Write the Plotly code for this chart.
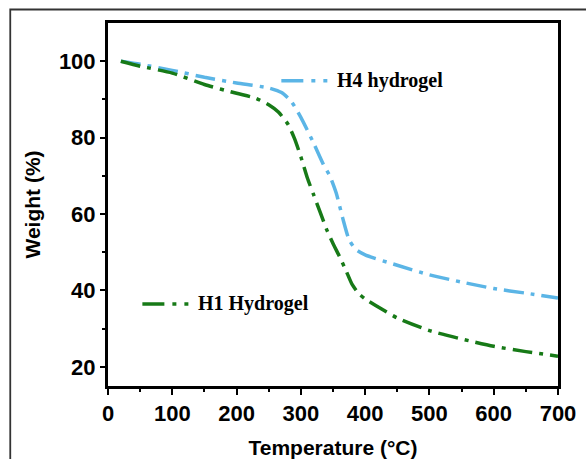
import plotly.graph_objects as go

# ---- data ----
h4_temp = [20, 50, 100, 150, 200, 250, 270, 285, 300, 320, 335, 345, 355, 365, 375, 385, 400, 450, 500, 550, 600, 650, 700]
h4_weight = [100, 99.2, 97.6, 95.8, 94.3, 93.0, 91.8, 89.5, 85.3, 78.5, 73.0, 70.0, 65.5, 59.0, 53.3, 50.8, 49.3, 46.6, 44.1, 42.2, 40.5, 39.3, 38.0]

h1_temp = [20, 50, 100, 150, 200, 230, 250, 265, 280, 290, 300, 310, 320, 330, 340, 350, 360, 370, 380, 390, 400, 425, 450, 500, 550, 600, 650, 700]
h1_weight = [100, 98.7, 96.9, 93.9, 91.6, 90.3, 88.6, 86.7, 83.5, 79.8, 75.0, 69.5, 65.0, 60.5, 56.0, 52.3, 48.9, 45.3, 41.5, 39.2, 37.8, 35.2, 32.8, 29.5, 27.3, 25.4, 24.0, 22.8]

x_ticks = [0, 100, 200, 300, 400, 500, 600, 700]
x_minor = [50, 150, 250, 350, 450, 550, 650]
y_ticks = [20, 40, 60, 80, 100]
y_minor = [30, 50, 70, 90]

series_names = ["H4 hydrogel", "H1 Hydrogel"]
c_h4 = "#5BB5E6"
c_h1 = "#177A17"
curve_dash = "20px,7px,4px,7px"
legend_dash = "22px,8px,4px,8px,4px,10px"

fig = go.Figure()
fig.add_trace(go.Scatter(x=h4_temp, y=h4_weight, mode="lines", name=series_names[0],
                         line=dict(color=c_h4, width=3.5, dash=curve_dash, shape="spline", smoothing=0.6)))
fig.add_trace(go.Scatter(x=h1_temp, y=h1_weight, mode="lines", name=series_names[1],
                         line=dict(color=c_h1, width=3.5, dash=curve_dash, shape="spline", smoothing=0.6)))

axis_font = dict(family="Liberation Sans, Arial, sans-serif", size=21, color="black", weight="bold")
tick_font = dict(family="Liberation Sans, Arial, sans-serif", size=22, color="black", weight="bold")

fig.update_xaxes(range=[0, 700], tickvals=x_ticks, ticks="outside", ticklen=6, tickwidth=2,
                 tickcolor="black", showline=True, linewidth=3, linecolor="black", mirror=True,
                 showgrid=False, zeroline=False, tickfont=tick_font, automargin=False,
                 minor=dict(tickvals=x_minor, ticks="outside", ticklen=3, tickwidth=2, tickcolor="black", showgrid=False),
                 title=dict(text="Temperature (°C)", font=axis_font, standoff=22))
fig.update_yaxes(range=[15, 110], tickvals=y_ticks, ticks="outside", ticklen=5, tickwidth=2,
                 tickcolor="black", showline=True, linewidth=3, linecolor="black", mirror=True,
                 showgrid=False, zeroline=False, tickfont=tick_font, automargin=False,
                 minor=dict(tickvals=y_minor, ticks="outside", ticklen=3, tickwidth=2, tickcolor="black", showgrid=False),
                 title=dict(text="Weight (%)", font=axis_font, standoff=13))

label_font = dict(family="Liberation Serif, Times New Roman, serif", size=20, color="black", weight="bold")

# in-plot legend samples + labels (paper coordinates)
fig.add_shape(type="line", xref="paper", yref="paper", x0=0.3852, x1=0.4962, y0=0.841, y1=0.841,
              line=dict(color=c_h4, width=3.5, dash=legend_dash))
fig.add_annotation(xref="paper", yref="paper", x=0.5036, y=0.841, text=series_names[0], showarrow=False,
                   xanchor="left", yanchor="middle", font=label_font)
fig.add_shape(type="line", xref="paper", yref="paper", x0=0.0764, x1=0.1888, y0=0.2259, y1=0.2259,
              line=dict(color=c_h1, width=3.5, dash=legend_dash))
fig.add_annotation(xref="paper", yref="paper", x=0.1964, y=0.2259, text=series_names[1], showarrow=False,
                   xanchor="left", yanchor="middle", font=label_font)

# outer frame of the figure panel
fig.add_shape(type="rect", xref="paper", yref="paper", x0=-0.2172, x1=1.092, y0=-0.26, y1=1.0372,
              line=dict(color="#333333", width=1.8), fillcolor="rgba(0,0,0,0)", layer="above")

fig.update_layout(width=586, height=459, margin=dict(l=108, r=28, t=23, b=73, autoexpand=False),
                  paper_bgcolor="white", plot_bgcolor="white", showlegend=False)

fig.write_html("out.html")
